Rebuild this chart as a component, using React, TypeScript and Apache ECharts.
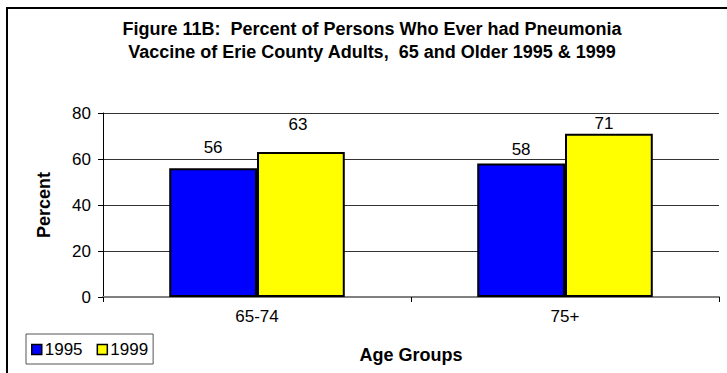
import React, { useEffect, useRef } from "react";
import * as echarts from "echarts";

const ageGroups = ["65-74", "75+"];
const seriesNames = ["1995", "1999"];
const values1995 = [56, 58];
const values1999 = [63, 71];
const yTicks = [0, 20, 40, 60, 80];

// Hand-placed value labels: [dx, dy] nudges per bar, in pixels.
const labelNudge1995: [number, number][] = [[0, -3], [0, 3]];
const labelNudge1999: [number, number][] = [[-3, -10], [-5, 7]];

const FONT = "'Liberation Sans', Arial, Helvetica, sans-serif";

function withNudges(values: number[], nudges: [number, number][]) {
  return values.map((v, i) => ({ value: v, label: { offset: nudges[i] } }));
}

export default function App() {
  const ref = useRef<HTMLDivElement>(null);

  useEffect(() => {
    if (!ref.current) return;
    const chart = echarts.init(ref.current, undefined, { renderer: "svg" });

    const barLabel = {
      show: true,
      position: "top" as const,
      distance: 9,
      color: "#000",
      fontFamily: FONT,
      fontSize: 17,
    };

    chart.setOption({
      animation: false,
      backgroundColor: "#fff",
      textStyle: { fontFamily: FONT },
      graphic: [
        {
          type: "rect",
          shape: { x: 7, y: 8, width: 800, height: 420 },
          style: { fill: "none", stroke: "#000", lineWidth: 2 },
          silent: true,
        },
        {
          type: "text",
          x: 372,
          y: 40,
          style: {
            text: "Figure 11B:  Percent of Persons Who Ever had Pneumonia\nVaccine of Erie County Adults,  65 and Older 1995 & 1999",
            fontFamily: FONT,
            fontSize: 18,
            fontWeight: "bold",
            lineHeight: 23,
            fill: "#000",
            align: "center",
            verticalAlign: "middle",
          },
        },
      ],
      legend: {
        left: 26,
        top: 334,
        orient: "horizontal",
        data: seriesNames,
        itemWidth: 10,
        itemHeight: 10,
        itemGap: 14,
        padding: [7, 5, 6, 5],
        borderColor: "#555",
        borderWidth: 1,
        backgroundColor: "#fff",
        icon: "rect",
        itemStyle: { borderColor: "#000", borderWidth: 1.5 },
        textStyle: { color: "#000", fontFamily: FONT, fontSize: 17, padding: [0, 0, 0, -2] },
      },
      grid: { left: 103, right: 8, top: 113, bottom: 76, containLabel: false },
      xAxis: {
        type: "category",
        data: ageGroups,
        name: "Age Groups",
        nameLocation: "middle",
        nameGap: 49,
        nameTextStyle: { color: "#000", fontFamily: FONT, fontSize: 18, fontWeight: "bold" },
        axisLine: { show: true, lineStyle: { color: "#808080", width: 2 } },
        axisTick: { show: true, length: 5, inside: false, lineStyle: { color: "#000" } },
        axisLabel: { color: "#000", fontFamily: FONT, fontSize: 17, margin: 11 },
        splitLine: { show: false },
      },
      yAxis: {
        type: "value",
        min: yTicks[0],
        max: yTicks[yTicks.length - 1],
        interval: yTicks[1] - yTicks[0],
        name: "Percent",
        nameLocation: "middle",
        nameRotate: 90,
        nameGap: 50,
        nameTextStyle: { color: "#000", fontFamily: FONT, fontSize: 18, fontWeight: "bold" },
        axisLine: { show: true, lineStyle: { color: "#000", width: 1 } },
        axisTick: { show: true, length: 5, inside: false, lineStyle: { color: "#000" } },
        axisLabel: { color: "#000", fontFamily: FONT, fontSize: 17, margin: 12 },
        splitLine: { show: true, lineStyle: { color: "#333", width: 1 } },
      },
      series: [
        {
          name: seriesNames[0],
          type: "bar",
          data: withNudges(values1995, labelNudge1995),
          barGap: "0%",
          barCategoryGap: "43%",
          itemStyle: { color: "#0000FF", borderColor: "#000", borderWidth: 2 },
          label: barLabel,
        },
        {
          name: seriesNames[1],
          type: "bar",
          data: withNudges(values1999, labelNudge1999),
          barGap: "0%",
          barCategoryGap: "43%",
          itemStyle: { color: "#FFFF00", borderColor: "#000", borderWidth: 2 },
          label: barLabel,
        },
      ],
    });

    return () => chart.dispose();
  }, []);

  return (
    <div
      ref={ref}
      style={{ position: "fixed", left: 0, top: 0, width: 727, height: 373 }}
    />
  );
}
